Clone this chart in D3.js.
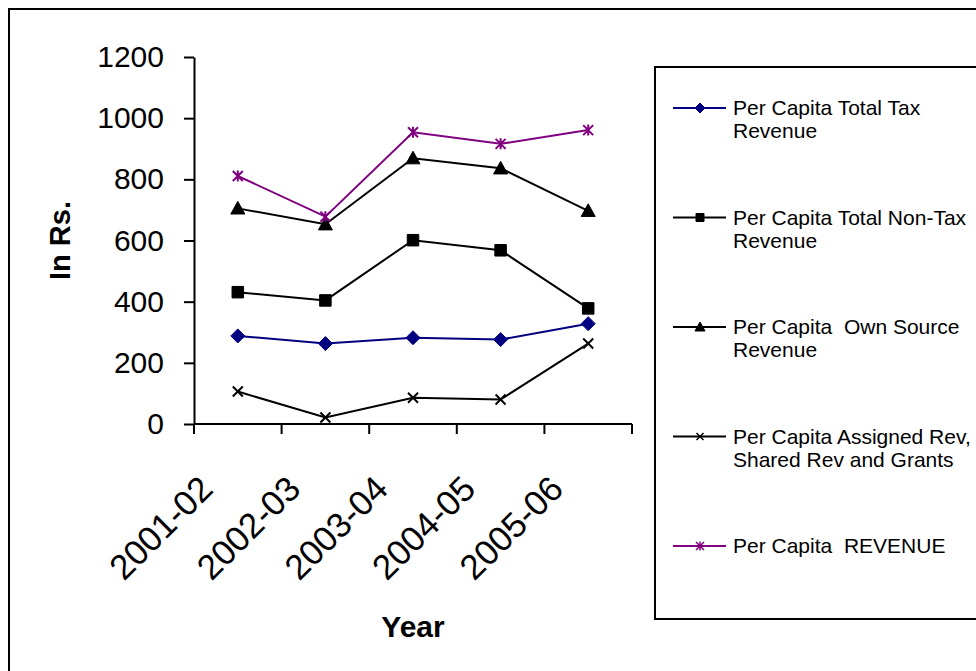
<!DOCTYPE html>
<html>
<head>
<meta charset="utf-8">
<script src="https://cdn.jsdelivr.net/npm/d3@7"></script>
<style>
  html, body { margin: 0; padding: 0; background: #fff; }
  svg { display: block; font-family: "Liberation Sans", Arial, sans-serif; }
  text { white-space: pre; }
</style>
</head>
<body>
<svg id="chart" width="976" height="671"></svg>
<script>
// ---- data ----
const categories = ["2001-02", "2002-03", "2003-04", "2004-05", "2005-06"];
const taxRevenue = [288, 263, 282, 276, 328];
const nonTaxRevenue = [431, 404, 601, 568, 378];
const ownSourceRevenue = [705, 653, 869, 836, 697];
const assignedRevenue = [106, 21, 86, 80, 263];
const totalRevenue = [811, 678, 954, 916, 961];
const yTicks = [0, 200, 400, 600, 800, 1000, 1200];
const seriesNames = [
  ["Per Capita Total Tax", "Revenue"],
  ["Per Capita Total Non-Tax", "Revenue"],
  ["Per Capita  Own Source", "Revenue"],
  ["Per Capita Assigned Rev,", "Shared Rev and Grants"],
  ["Per Capita  REVENUE"]
];
const xTitle = "Year";
const yTitle = "In Rs.";

// ---- custom marker shapes (size = edge length in px) ----
const diamond = { draw(c, s) { const r = s / 2; c.moveTo(0, -r); c.lineTo(r, 0); c.lineTo(0, r); c.lineTo(-r, 0); c.closePath(); } };
const square = { draw(c, s) { const r = s / 2; c.rect(-r, -r, s, s); } };
const triangle = { draw(c, s) { const r = s / 2; c.moveTo(0, -r); c.lineTo(r, r * 0.8); c.lineTo(-r, r * 0.8); c.closePath(); } };
const cross = { draw(c, s) { const r = s / 2; c.moveTo(-r, -r); c.lineTo(r, r); c.moveTo(r, -r); c.lineTo(-r, r); } };
const star = { draw(c, s) { const r = s / 2; c.moveTo(-r, -r); c.lineTo(r, r); c.moveTo(r, -r); c.lineTo(-r, r); c.moveTo(0, -r * 1.1); c.lineTo(0, r * 1.1); } };

const series = [
  { values: taxRevenue, color: "#000080", shape: diamond, filled: true, size: 14, lsize: 10 },
  { values: nonTaxRevenue, color: "#000000", shape: square, filled: true, size: 11.5, lsize: 8 },
  { values: ownSourceRevenue, color: "#000000", shape: triangle, filled: true, size: 14, lsize: 10 },
  { values: assignedRevenue, color: "#000000", shape: cross, filled: false, size: 10, lsize: 7 },
  { values: totalRevenue, color: "#800080", shape: star, filled: false, size: 10, lsize: 8 }
];

const svg = d3.select("#chart");
const W = 976, H = 671;

// outer frame (extends past right and bottom edges)
svg.append("rect").attr("x", 9).attr("y", 9).attr("width", W + 20).attr("height", H + 20)
  .attr("fill", "none").attr("stroke", "#000").attr("stroke-width", 2);

const plot = { left: 194, right: 632, top: 57, bottom: 424 };

const x = d3.scaleBand().domain(categories).range([plot.left, plot.right]).paddingInner(0).paddingOuter(0);
const y = d3.scaleLinear().domain([0, 1200]).range([plot.bottom, plot.top]);
const cx = d => x(d) + x.bandwidth() / 2;

// y axis
const yAxis = d3.axisLeft(y).tickValues(yTicks).tickFormat(d3.format("d"))
  .tickSize(10).tickPadding(20).tickSizeOuter(0);
const gy = svg.append("g").attr("transform", `translate(${plot.left},0)`).call(yAxis);
gy.select(".domain").attr("stroke", "#000").attr("stroke-width", 2);
gy.selectAll(".tick line").attr("stroke", "#000").attr("stroke-width", 2);
gy.selectAll(".tick text").attr("font-size", 30).attr("fill", "#000")
  .attr("font-family", "'Liberation Sans', Arial, sans-serif");

// x axis (ticks at category boundaries)
const gx = svg.append("g");
gx.append("line").attr("x1", plot.left).attr("x2", plot.right)
  .attr("y1", y(0)).attr("y2", y(0)).attr("stroke", "#000").attr("stroke-width", 2);
const boundaries = categories.map(c => x(c)).concat([x(categories[categories.length - 1]) + x.bandwidth()]);
gx.selectAll("line.tk").data(boundaries).enter().append("line").attr("class", "tk")
  .attr("x1", d => d).attr("x2", d => d).attr("y1", y(0)).attr("y2", y(0) + 10)
  .attr("stroke", "#000").attr("stroke-width", 2);

// rotated x labels
gx.selectAll("text.xl").data(categories).enter().append("text").attr("class", "xl")
  .attr("transform", d => `translate(${cx(d) - 23},${y(0) + 67}) rotate(-45)`)
  .attr("text-anchor", "end").attr("font-size", 35).attr("fill", "#000")
  .text(d => d);

// axis titles
svg.append("text").attr("x", 413).attr("y", 637).attr("text-anchor", "middle")
  .attr("font-size", 30).attr("font-weight", "bold").text(xTitle);
svg.append("text").attr("transform", `translate(70,${(plot.top + plot.bottom) / 2}) rotate(-90)`)
  .attr("text-anchor", "middle").attr("font-size", 29).attr("font-weight", "bold").text(yTitle);

// series lines and markers
const line = d3.line().x((d, i) => cx(categories[i])).y(d => y(d));
series.forEach(s => {
  svg.append("path").datum(s.values).attr("d", line)
    .attr("fill", "none").attr("stroke", s.color).attr("stroke-width", 2);
  svg.selectAll(null).data(s.values).enter().append("path")
    .attr("transform", (d, i) => `translate(${cx(categories[i])},${y(d)})`)
    .attr("d", d3.symbol().type(s.shape).size(s.size))
    .attr("fill", s.filled ? s.color : "none")
    .attr("stroke", s.color).attr("stroke-width", s.filled ? 1 : 2);
});

// legend
const lg = svg.append("g");
lg.append("rect").attr("x", 655).attr("y", 67).attr("width", 400).attr("height", 552)
  .attr("fill", "#fff").attr("stroke", "#000").attr("stroke-width", 2);
const legendTop = 108, legendStep = 109.5;
series.forEach((s, i) => {
  const ly = legendTop + i * legendStep;
  lg.append("line").attr("x1", 673).attr("x2", 726).attr("y1", ly).attr("y2", ly)
    .attr("stroke", s.color).attr("stroke-width", 2);
  lg.append("path").attr("transform", `translate(700,${ly})`)
    .attr("d", d3.symbol().type(s.shape).size(s.lsize))
    .attr("fill", s.filled ? s.color : "none").attr("stroke", s.color)
    .attr("stroke-width", s.filled ? 1 : 1.5);
  const t = lg.append("text").attr("x", 733).attr("y", ly + 7).attr("font-size", 21).attr("fill", "#000");
  seriesNames[i].forEach((ln, j) => {
    t.append("tspan").attr("x", 733).attr("dy", j === 0 ? 0 : 23).text(ln);
  });
});
</script>
</body>
</html>
